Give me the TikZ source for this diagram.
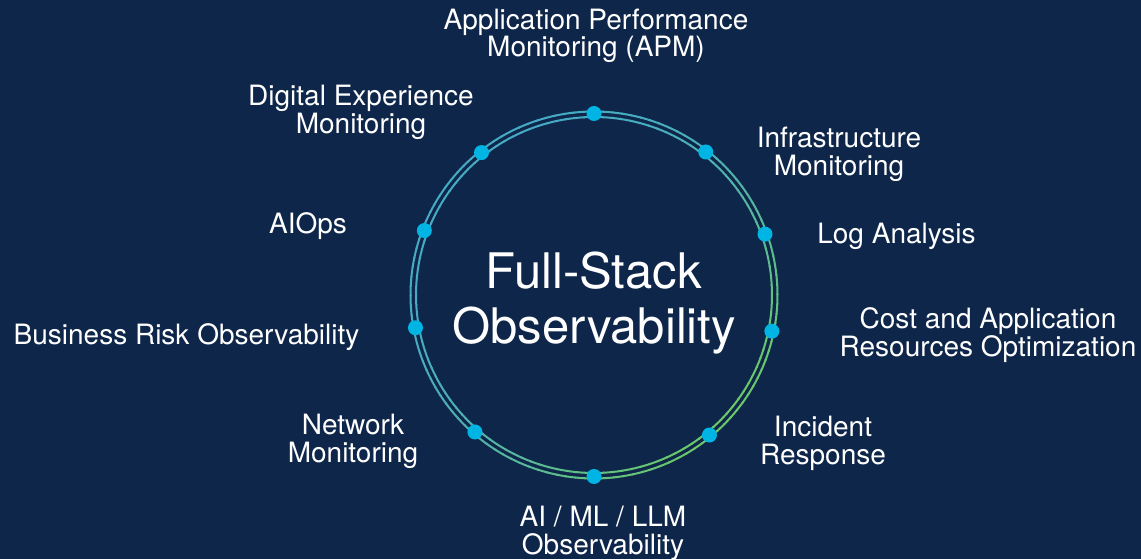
\documentclass[tikz,border=0pt]{standalone}
\usepackage{fontspec}
\setmainfont{TeX Gyre Heros}
\definecolor{fsobg}{RGB}{14,38,74}
\definecolor{fsoteal}{RGB}{70,170,196}
\definecolor{fsogreen}{RGB}{108,200,104}
\definecolor{fsodot}{RGB}{0,180,228}
\usetikzlibrary{positioning}

\begin{document}
\begin{tikzpicture}[x=1pt,y=1pt,
    lbl/.style={text=white, font=\fontsize{28}{27.5}\selectfont, align=center, inner sep=0pt},
    dot/.style={circle, fill=fsodot, minimum size=15pt, inner sep=0pt},
    ring/.style={line width=2pt}]
    % background
    \fill[fsobg] (0,0) rectangle (1141,559);
    \useasboundingbox (0,0) rectangle (1141,559);

    % ring with teal to green blend, two thin lines
    \begin{scope}[shift={(594,264)}]
        \foreach \a in {0,3,...,357} {
            \pgfmathtruncatemacro\g{100*((1+cos(\a+1.5+45))/2)^2}
            \draw[ring, fsogreen!\g!fsoteal] (\a:183.5) arc[start angle=\a, end angle=\a+3.4, radius=183.5];
            \draw[ring, fsogreen!\g!fsoteal] (\a:178) arc[start angle=\a, end angle=\a+3.4, radius=178];
        }
        % dots on the ring
        \foreach \ang [count=\i] in {90,52,19.6,-11.5,-50.5,-90,229,190.4,159.2,128.3}
            \node[dot] (d\i) at (\ang:181.5) {};
    \end{scope}

    % centre title
    \node[lbl, font=\fontsize{49}{55}\selectfont] (core) at (594,256) {Full-Stack\\Observability};

    % labels round the ring
    \node[lbl] (apm) at (596,523) {Application Performance\\Monitoring (APM)};
    \node[lbl] (infra) at (839,404.5) {Infrastructure\\Monitoring};
    \node[lbl] (logs) at (896.5,323) {Log Analysis};
    \node[lbl] (cost) at (988,224) {Cost and Application\\Resources Optimization};
    \node[lbl] (incident) at (823,115.5) {Incident\\Response};
    \node[lbl] (aiml) at (603,25.5) {AI / ML / LLM\\Observability};
    \node[lbl] (netmon) at (353,117.5) {Network\\Monitoring};
    \node[lbl] (brobs) at (186.5,222) {Business Risk Observability};
    \node[lbl] (aiops) at (308,333) {AIOps};
    \node[lbl] (dem) at (361,446.5) {Digital Experience\\Monitoring};
\end{tikzpicture}
\end{document}
